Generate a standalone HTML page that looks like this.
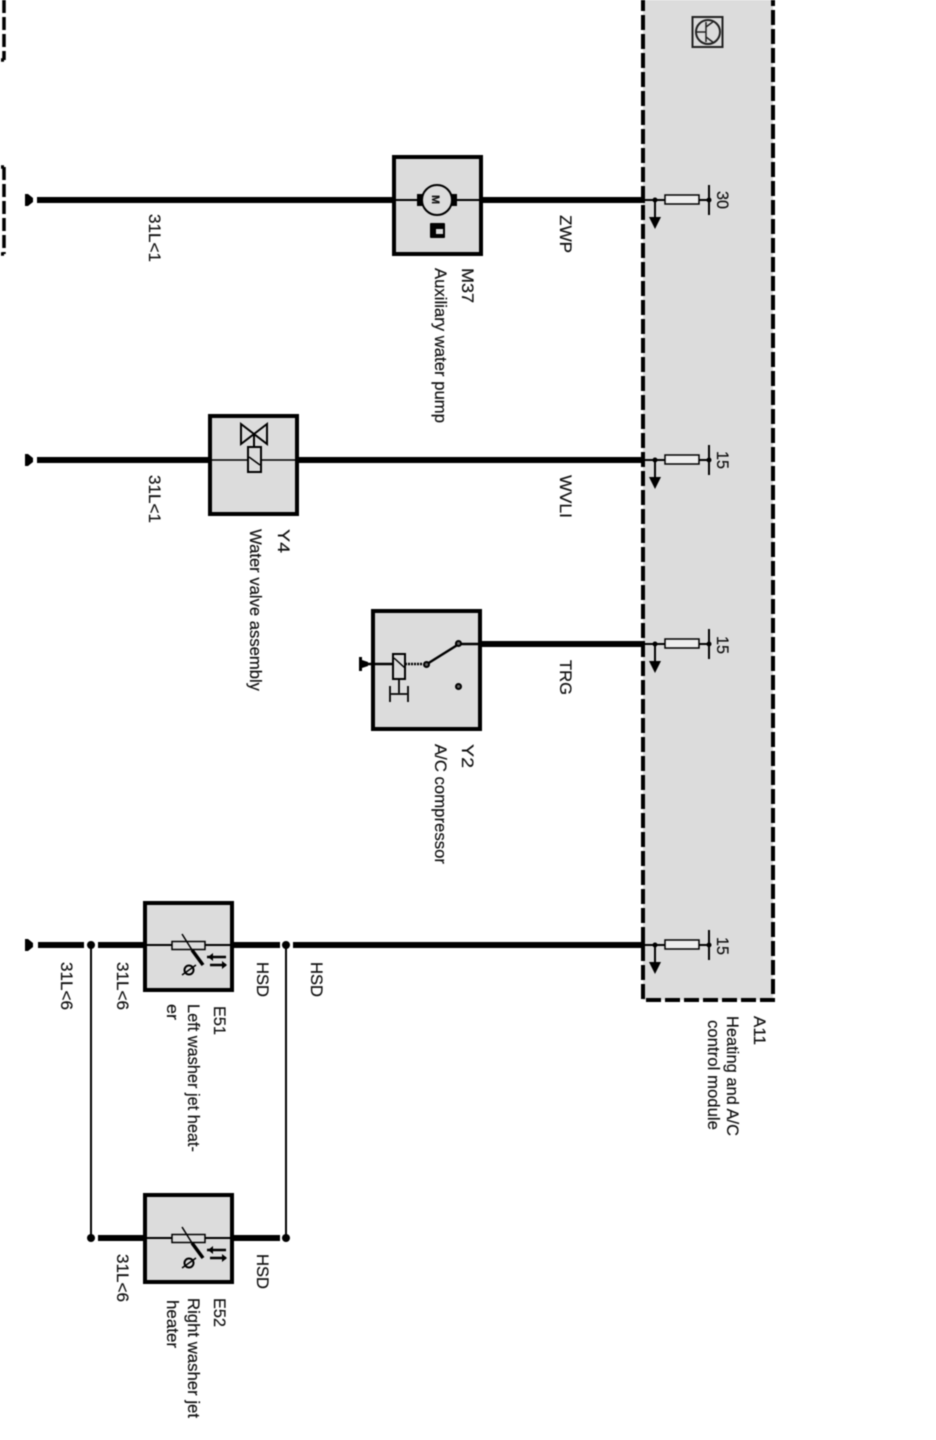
<!DOCTYPE html>
<html><head><meta charset="utf-8"><style>
html,body{margin:0;padding:0;background:#fff}
svg{display:block;filter:blur(.4px)}
text{font-family:"Liberation Sans",sans-serif;font-size:17px;fill:#111;stroke:#111;stroke-width:.2px}
</style></head><body>
<svg width="936" height="1440" viewBox="0 0 936 1440" xmlns="http://www.w3.org/2000/svg">
<!-- A11 module -->
<rect x="643" y="-10" width="130" height="1010" fill="#dcdcdc"/>
<path d="M643 -4V1000H773V-4" fill="none" stroke="#000" stroke-width="4" stroke-dasharray="15 4"/>
<!-- left dashed fragments -->
<path d="M4 0V60M1 60H4" fill="none" stroke="#000" stroke-width="3.5" stroke-dasharray="13 4"/>
<path d="M4 167V254M1 167H4M1 254H4" fill="none" stroke="#000" stroke-width="3.5" stroke-dasharray="13 4"/>
<!-- transistor icon -->
<rect x="692.500" y="17" width="30" height="30" fill="none" stroke="#222" stroke-width="2"/>
<circle cx="708" cy="32" r="12" fill="none" stroke="#222" stroke-width="2"/>
<path d="M695 32H706M706 22V42M706 27L714 21M706 37L714 43" fill="none" stroke="#222" stroke-width="1.500"/>
<!-- thick lines -->
<g stroke="#000" stroke-width="6" fill="none">
<path d="M37 200H393M481 200H645"/>
<path d="M37 460H209M297 460H645"/>
<path d="M481 644H645"/>
<path d="M38 945H84M98 945H145M232 945H280M293 945H645"/>
<path d="M98 1238H145M232 1238H280"/>
</g>
<!-- thin vertical links -->
<path d="M91 945V1238M286 945V1238" stroke="#000" stroke-width="2" fill="none"/>
<g fill="#000">
<circle cx="91" cy="945" r="4"/><circle cx="286" cy="945" r="4"/>
<circle cx="91" cy="1238" r="4"/><circle cx="286" cy="1238" r="4"/>
</g>
<!-- ground ends -->
<g fill="#000">
<path d="M25 194h3l5 4v4l-5 4h-3z"/>
<path d="M25 454h3l5 4v4l-5 4h-3z"/>
<path d="M25 939h3l5 4v4l-5 4h-3z"/>
</g>
<!-- Component boxes -->
<g fill="#dcdcdc" stroke="#000" stroke-width="4">
<rect x="394" y="157" width="87" height="97"/>
<rect x="210" y="416" width="87" height="98"/>
<rect x="373" y="611" width="107" height="118"/>
<rect x="145" y="903" width="87" height="87"/>
<rect x="145" y="1195" width="87" height="87"/>
</g>
<!-- M37 motor -->
<path d="M394 200H481" stroke="#000" stroke-width="2"/>
<path d="M417 194h8v12h-8zM449 194h8v12h-8z" fill="#000"/>
<circle cx="437" cy="200" r="15" fill="#dcdcdc" stroke="#000" stroke-width="2"/>
<text transform="translate(432,195) rotate(90)" style="font-size:11px;font-weight:bold">M</text>
<rect x="430" y="223" width="15" height="15" rx="1" fill="#000"/>
<rect x="436" y="229" width="7" height="5" fill="#dcdcdc"/>
<!-- Y4 valve -->
<path d="M210 460H297" stroke="#000" stroke-width="1.500"/>
<path d="M254 435V448" stroke="#000" stroke-width="2"/>
<path d="M254 434L241 424V444ZM254 434L267 424V444Z" fill="#dcdcdc" stroke="#000" stroke-width="2"/>
<rect x="248" y="447" width="13" height="25" fill="#dcdcdc" stroke="#000" stroke-width="2"/>
<path d="M249 457L260 465" stroke="#000" stroke-width="1.500"/>
<!-- Y2 compressor -->
<path d="M363 664H393M455 644H482" stroke="#000" stroke-width="2.500" fill="none"/>
<path d="M359 657h3v3l6 2v4l-6 2v3h-3z" fill="#000"/>
<rect x="393" y="654" width="12" height="25" fill="#dcdcdc" stroke="#000" stroke-width="2"/>
<path d="M394 658L405 668" stroke="#000" stroke-width="1.500"/>
<path d="M405 664H423" stroke="#000" stroke-width="2.500" stroke-dasharray="2 1"/>
<path d="M427 664L459 644" stroke="#000" stroke-width="2.500"/>
<path d="M399 679V693M391 694H407M390 686V702M408 686V702" stroke="#000" stroke-width="1.800" fill="none"/>
<g fill="#666" stroke="#000" stroke-width="2">
<circle cx="426.500" cy="664.500" r="2.500"/><circle cx="458.500" cy="643.500" r="2.500"/><circle cx="458.500" cy="686.500" r="2.500"/>
</g>
<!-- Heaters -->
<g>
<path d="M145 945H232" stroke="#000" stroke-width="2"/>
<rect x="172" y="941.500" width="33" height="8" fill="#dcdcdc" stroke="#000" stroke-width="1.500"/>
<path d="M182 934L197 958" stroke="#000" stroke-width="1.500"/>
<path d="M192 950L203 965" stroke="#000" stroke-width="3.500"/>
<path d="M207 957H226M210 965H226" stroke="#000" stroke-width="2.500"/>
<path d="M213 953l-5 4 5 4zM222 961l5 4-5 4z" fill="#000"/>
<circle cx="189" cy="970" r="4.500" fill="none" stroke="#000" stroke-width="2"/>
<path d="M182 975L196 965" stroke="#000" stroke-width="1.500"/>
</g>
<g>
<path d="M145 1238H232" stroke="#000" stroke-width="2"/>
<rect x="172" y="1234.500" width="33" height="8" fill="#dcdcdc" stroke="#000" stroke-width="1.500"/>
<path d="M182 1227L197 1251" stroke="#000" stroke-width="1.500"/>
<path d="M192 1243L203 1258" stroke="#000" stroke-width="3.500"/>
<path d="M207 1250H226M210 1258H226" stroke="#000" stroke-width="2.500"/>
<path d="M213 1246l-5 4 5 4zM222 1254l5 4-5 4z" fill="#000"/>
<circle cx="189" cy="1263" r="4.500" fill="none" stroke="#000" stroke-width="2"/>
<path d="M182 1268L196 1258" stroke="#000" stroke-width="1.500"/>
</g>
<!-- Module terminals -->
<g id="t">
<path d="M645 200H709M655 200V218" stroke="#000" stroke-width="2" fill="none"/>
<circle cx="655" cy="200" r="2.500"/>
<path d="M649 217H661L655 229Z" fill="#000"/>
<rect x="665" y="195" width="34" height="9" fill="#eee" stroke="#000" stroke-width="1.500"/>
<path d="M709 185V215" stroke="#000" stroke-width="2"/><circle cx="709" cy="200" r="2.500"/>
</g>
<use href="#t" y="260"/>
<use href="#t" y="444"/>
<use href="#t" y="745"/>
<!-- Labels -->
<g>
<text transform="translate(717,191) rotate(90)" textLength="18" lengthAdjust="spacingAndGlyphs">30</text>
<text transform="translate(717,451) rotate(90)" textLength="18" lengthAdjust="spacingAndGlyphs">15</text>
<text transform="translate(717,636) rotate(90)" textLength="18" lengthAdjust="spacingAndGlyphs">15</text>
<text transform="translate(717,937) rotate(90)" textLength="18" lengthAdjust="spacingAndGlyphs">15</text>

<text transform="translate(149,214) rotate(90)" textLength="48" lengthAdjust="spacingAndGlyphs">31L&lt;1</text>
<text transform="translate(149,475) rotate(90)" textLength="48" lengthAdjust="spacingAndGlyphs">31L&lt;1</text>
<text transform="translate(560,215) rotate(90)" textLength="38" lengthAdjust="spacingAndGlyphs">ZWP</text>
<text transform="translate(560,475) rotate(90)" textLength="43" lengthAdjust="spacingAndGlyphs">WVLI</text>
<text transform="translate(560,660) rotate(90)" textLength="35" lengthAdjust="spacingAndGlyphs">TRG</text>

<text transform="translate(462,268) rotate(90)" textLength="35" lengthAdjust="spacingAndGlyphs">M37</text>
<text transform="translate(435,268) rotate(90)" textLength="155" lengthAdjust="spacingAndGlyphs">Auxiliary water pump</text>
<text transform="translate(278,529) rotate(90)" textLength="24" lengthAdjust="spacingAndGlyphs">Y4</text>
<text transform="translate(250,529) rotate(90)" textLength="162" lengthAdjust="spacingAndGlyphs">Water valve assembly</text>
<text transform="translate(462,744) rotate(90)" textLength="24" lengthAdjust="spacingAndGlyphs">Y2</text>
<text transform="translate(435,744) rotate(90)" textLength="120" lengthAdjust="spacingAndGlyphs">A/C compressor</text>

<text transform="translate(754,1016) rotate(90)" textLength="29" lengthAdjust="spacingAndGlyphs">A11</text>
<text transform="translate(727,1016) rotate(90)" textLength="120" lengthAdjust="spacingAndGlyphs">Heating and A/C</text>
<text transform="translate(708,1020) rotate(90)" textLength="110" lengthAdjust="spacingAndGlyphs">control module</text>

<text transform="translate(257,962) rotate(90)" textLength="35" lengthAdjust="spacingAndGlyphs">HSD</text>
<text transform="translate(311,962) rotate(90)" textLength="35" lengthAdjust="spacingAndGlyphs">HSD</text>
<text transform="translate(257,1254) rotate(90)" textLength="35" lengthAdjust="spacingAndGlyphs">HSD</text>
<text transform="translate(117,962) rotate(90)" textLength="48" lengthAdjust="spacingAndGlyphs">31L&lt;6</text>
<text transform="translate(61,962) rotate(90)" textLength="48" lengthAdjust="spacingAndGlyphs">31L&lt;6</text>
<text transform="translate(117,1254) rotate(90)" textLength="48" lengthAdjust="spacingAndGlyphs">31L&lt;6</text>

<text transform="translate(214,1006) rotate(90)" textLength="29" lengthAdjust="spacingAndGlyphs">E51</text>
<text transform="translate(188,1004) rotate(90)" textLength="148" lengthAdjust="spacingAndGlyphs">Left washer jet heat-</text>
<text transform="translate(167,1004) rotate(90)" textLength="16" lengthAdjust="spacingAndGlyphs">er</text>
<text transform="translate(214,1298) rotate(90)" textLength="29" lengthAdjust="spacingAndGlyphs">E52</text>
<text transform="translate(188,1298) rotate(90)" textLength="120" lengthAdjust="spacingAndGlyphs">Right washer jet</text>
<text transform="translate(167,1300) rotate(90)" textLength="48" lengthAdjust="spacingAndGlyphs">heater</text>
</g>
</svg>
</body></html>
